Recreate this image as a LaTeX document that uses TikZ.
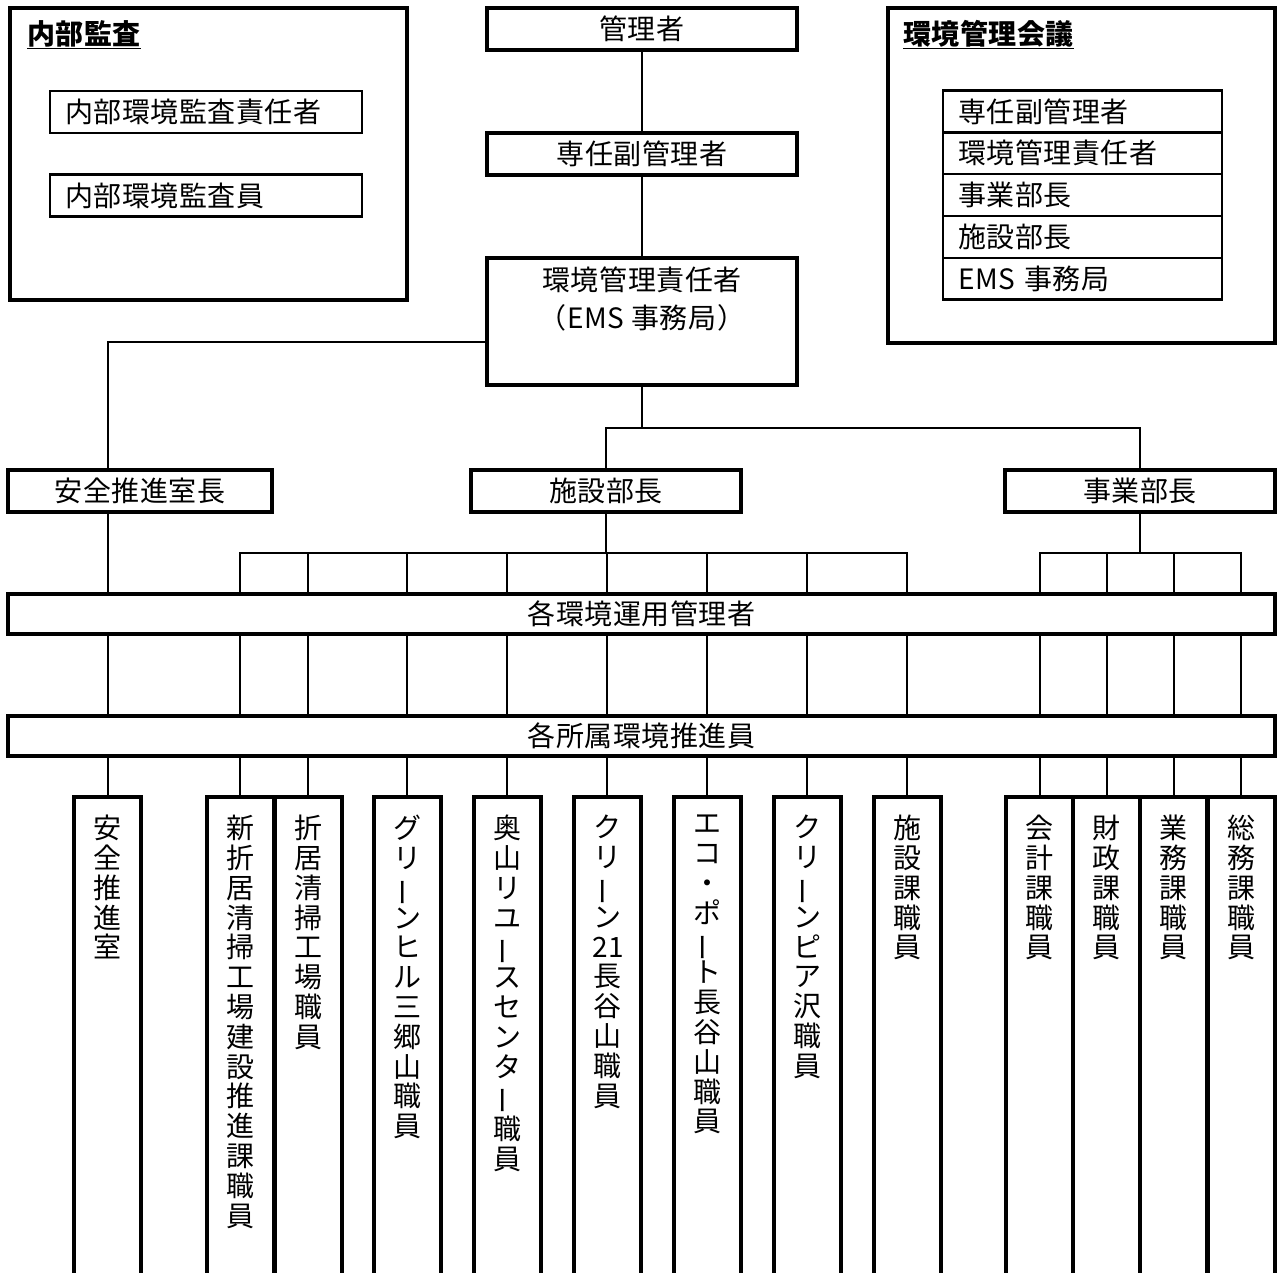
\documentclass[tikz,border=0pt]{standalone}
\usepackage{fontspec}
\setmainfont{Noto Sans CJK JP}[LetterSpace=2]
\usetikzlibrary{positioning}

\newcommand{\jfont}{\fontsize{28}{30}\selectfont}
\newcommand{\tfont}{\fontsize{28}{29.8}\selectfont}
\newcommand{\vl}{\rotatebox[origin=c]{90}{ー}}
\makeatletter
\newcommand{\tate}[1]{\parindent=0pt\@tfor\tc:=#1\do{\tc\par}}
\makeatother

\begin{document}
\begin{tikzpicture}[x=1pt, y=-1pt,
    bigbox/.style={draw, line width=4pt, outer sep=0pt, inner sep=0pt, font=\jfont},
    listbox/.style={draw, line width=2.5pt, outer sep=0pt, inner xsep=15pt, inner ysep=0pt, align=left, font=\jfont},
    tatebox/.style={draw, line width=4pt, outer sep=0pt, anchor=north, minimum width=67, minimum height=520},
    tatetext/.style={inner sep=0pt, text width=30pt, align=center, font=\tfont},
    title/.style={inner sep=0pt, font=\jfont\bfseries},
    conn/.style={line width=2pt}]
		\useasboundingbox (0,0) rectangle (1281,1272);
		\clip (0,0) rectangle (1281,1272);
		%%%%%%%%%%%%% top row
		\node[bigbox, minimum width=397, minimum height=292] (naibu) at (208.5,154) {};
		\node[title, below right=12pt and 17pt of naibu.north west] (naibutitle) {\underline{内部監査}};
		\node[listbox, text width=282, minimum height=42] (kansachief) at (206,112) {内部環境監査責任者};
		\node[listbox, text width=282, minimum height=42] (kansain) at (206,195.5) {内部環境監査員};
		\node[bigbox, minimum width=310, minimum height=42] (kanrisha) at (642,29) {管理者};
		\node[bigbox, minimum width=310, minimum height=42] (fuku) at (642,154) {専任副管理者};
		\node[bigbox, minimum width=310, minimum height=127] (sekinin) at (642,321.5) {};
		\node[inner sep=0pt, align=center, font=\fontsize{28}{38}\selectfont, below=9pt of sekinin.north] (sekinintxt) {環境管理責任者\\（EMS 事務局）};
		\node[bigbox, minimum width=387, minimum height=335] (kaigi) at (1081.5,175.5) {};
		\node[title, below right=12pt and 15pt of kaigi.north west] (kaigititle) {\underline{環境管理会議}};
		\node[listbox, text width=249, minimum height=41.8] (k1) at (1082.5,111.5) {専任副管理者};
		\node[listbox, text width=249, minimum height=41.8, below=0pt of k1] (k2) {環境管理責任者};
		\node[listbox, text width=249, minimum height=41.8, below=0pt of k2] (k3) {事業部長};
		\node[listbox, text width=249, minimum height=41.8, below=0pt of k3] (k4) {施設部長};
		\node[listbox, text width=249, minimum height=41.8, below=0pt of k4] (k5) {EMS 事務局};
		%%%%%%%%%%%%% middle rows
		\node[bigbox, minimum width=264, minimum height=42] (anzencho) at (140,491) {安全推進室長};
		\node[bigbox, minimum width=270, minimum height=42] (shisetsucho) at (606,491) {施設部長};
		\node[bigbox, minimum width=270, minimum height=42] (jigyocho) at (1140,491) {事業部長};
		\node[bigbox, minimum width=1267, minimum height=40] (unei) at (641.5,614) {各環境運用管理者};
		\node[bigbox, minimum width=1267, minimum height=40] (suishin) at (641.5,736) {各所属環境推進員};
		%%%%%%%%%%%%% bottom columns
		\node[tatebox] (anzen) at (107.5,797) {};
		\node[tatebox] (shinori) at (240,797) {};
		\node[tatebox] (ori) at (308,797) {};
		\node[tatebox] (green) at (407,797) {};
		\node[tatebox] (okuyama) at (507,797) {};
		\node[tatebox] (clean21) at (607,797) {};
		\node[tatebox] (eco) at (707,797) {};
		\node[tatebox] (cleanpia) at (807,797) {};
		\node[tatebox] (shisetsuka) at (907,797) {};
		\node[tatebox] (kaikei) at (1039.5,797) {};
		\node[tatebox] (zaisei) at (1106.5,797) {};
		\node[tatebox] (gyomu) at (1173.5,797) {};
		\node[tatebox] (somu) at (1241,797) {};
		\node[tatetext, below=18pt of anzen.north] {\tate{安全推進室}};
		\node[tatetext, below=18pt of shinori.north] {\tate{新折居清掃工場建設推進課職員}};
		\node[tatetext, below=18pt of ori.north] {\tate{折居清掃工場職員}};
		\node[tatetext, below=18pt of green.north] {\tate{グリ\vl ンヒル三郷山職員}};
		\node[tatetext, below=18pt of okuyama.north] {\tate{奥山リユ\vl スセンタ\vl 職員}};
		\node[tatetext, below=18pt of clean21.north] {\tate{クリ\vl ン{21}長谷山職員}};
		\node[tatetext, below=18pt of eco.north] {\tate{エコ・ポ\vl ト長谷山職員}};
		\node[tatetext, below=18pt of cleanpia.north] {\tate{クリ\vl ンピア沢職員}};
		\node[tatetext, below=18pt of shisetsuka.north] {\tate{施設課職員}};
		\node[tatetext, below=18pt of kaikei.north] {\tate{会計課職員}};
		\node[tatetext, below=18pt of zaisei.north] {\tate{財政課職員}};
		\node[tatetext, below=18pt of gyomu.north] {\tate{業務課職員}};
		\node[tatetext, below=18pt of somu.north] {\tate{総務課職員}};
		%%%%%%%%%%%%% connectors
		\coordinate (j0) at (0,342);
		\coordinate (j1) at (0,428);
		\coordinate (j2) at (0,553);
		\draw[conn] (kanrisha) to (fuku); \draw[conn] (fuku) to (sekinin);
		\draw[conn] (sekinin.west |- j0) -| (anzencho.north -| anzen);
		\draw[conn] (sekinin.south) to (sekinin.south |- j1);
		\draw[conn] (shisetsucho.north) |- (j1 -| jigyocho) to (jigyocho.north);
		\draw[conn] (anzencho.south -| anzen) to (unei.north -| anzen);
		\draw[conn] (shisetsucho.south) to (shisetsucho.south |- j2);
		\draw[conn] (jigyocho.south) to (jigyocho.south |- j2);
		\draw[conn] (unei.north -| shinori) |- (j2 -| shisetsuka) to (unei.north -| shisetsuka);
		\draw[conn] (unei.north -| kaikei) |- (j2 -| somu) to (unei.north -| somu);
		\foreach \b in {ori, green, okuyama, clean21, eco, cleanpia}
			\draw[conn] (j2 -| \b) to (unei.north -| \b);
		\foreach \b in {zaisei, gyomu}
			\draw[conn] (j2 -| \b) to (unei.north -| \b);
		\foreach \b in {anzen, shinori, ori, green, okuyama, clean21, eco, cleanpia, shisetsuka, kaikei, zaisei, gyomu, somu} {
			\draw[conn] (unei.south -| \b) to (suishin.north -| \b);
			\draw[conn] (suishin.south -| \b) to (\b.north);
		}
\end{tikzpicture}
\end{document}
